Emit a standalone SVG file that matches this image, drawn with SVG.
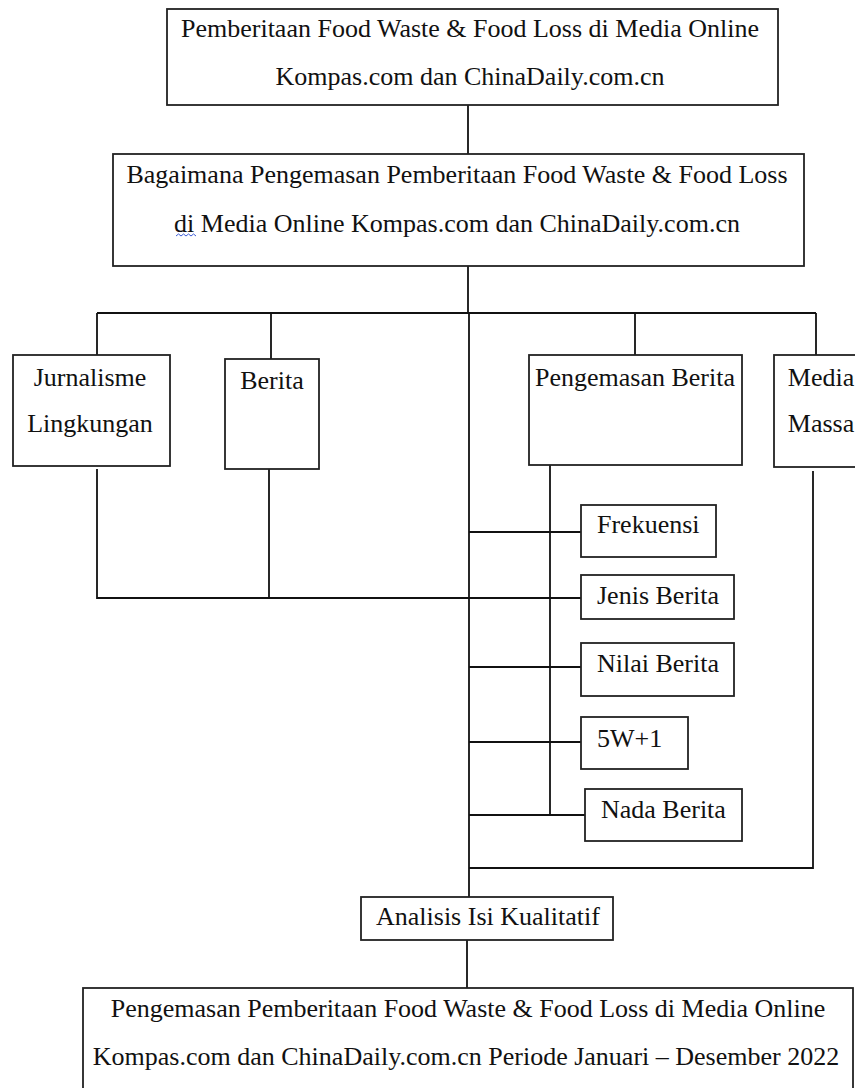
<svg xmlns="http://www.w3.org/2000/svg" width="855" height="1088" viewBox="0 0 855 1088">
<style>
.box{fill:#fff;stroke:#222;stroke-width:1.8}
.ln{fill:none;stroke:#111;stroke-width:1.8}
text{font-family:"Liberation Serif","Times New Roman",serif;font-size:26px;fill:#111}
.c{text-anchor:middle}
</style>
<rect width="855" height="1088" fill="#fff"/>
<g id="connectors">
<path class="ln" d="M468 105V154"/>
<path class="ln" d="M468 266V313"/>
<path class="ln" d="M97 313H816"/>
<path class="ln" d="M97 313V355M271 313V359M635 313V355M816 313V355"/>
<path class="ln" d="M469 313V897"/>
<path class="ln" d="M97 469V598H581"/>
<path class="ln" d="M269 469V598"/>
<path class="ln" d="M550 465V815"/>
<path class="ln" d="M469 532H581M469 667H581M469 742H581M469 815H585"/>
<path class="ln" d="M813 471V868H469"/>
<path class="ln" d="M467 940V988"/>
</g>
<g id="n1">
<rect class="box" x="167" y="9" width="611" height="96"/>
<text class="c" x="470" y="37">Pemberitaan Food Waste &amp; Food Loss di Media Online</text>
<text class="c" x="470" y="85">Kompas.com dan ChinaDaily.com.cn</text>
</g>
<g id="n2">
<rect class="box" x="113" y="154" width="691" height="112"/>
<text class="c" x="457" y="183">Bagaimana Pengemasan Pemberitaan Food Waste &amp; Food Loss</text>
<text class="c" x="457" y="232">di Media Online Kompas.com dan ChinaDaily.com.cn</text>
<path d="M176 236l2.5-2 2.5 2 2.5-2 2.5 2 2.5-2 2.5 2 2.5-2 2.5 2" fill="none" stroke="#3b5bd6" stroke-width="1"/>
</g>
<g id="n3">
<rect class="box" x="13" y="355" width="157" height="111"/>
<text class="c" x="90" y="386">Jurnalisme</text>
<text class="c" x="90" y="432">Lingkungan</text>
</g>
<g id="n4">
<rect class="box" x="225" y="359" width="94" height="110"/>
<text class="c" x="272" y="389">Berita</text>
</g>
<g id="n5">
<rect class="box" x="529" y="355" width="213" height="110"/>
<text class="c" x="635" y="386">Pengemasan Berita</text>
</g>
<g id="n6">
<rect class="box" x="774" y="355" width="96" height="112"/>
<text class="c" x="821" y="386">Media</text>
<text class="c" x="821" y="432">Massa</text>
</g>
<g id="n7">
<rect class="box" x="581" y="505" width="135" height="52"/>
<text x="597" y="533">Frekuensi</text>
</g>
<g id="n8">
<rect class="box" x="581" y="575" width="153" height="44"/>
<text x="597" y="604">Jenis Berita</text>
</g>
<g id="n9">
<rect class="box" x="581" y="643" width="153" height="53"/>
<text x="597" y="672">Nilai Berita</text>
</g>
<g id="n10">
<rect class="box" x="581" y="717" width="107" height="52"/>
<text x="597" y="747">5W+1</text>
</g>
<g id="n11">
<rect class="box" x="585" y="789" width="157" height="52"/>
<text x="601" y="818">Nada Berita</text>
</g>
<g id="n12">
<rect class="box" x="361" y="897" width="252" height="43"/>
<text x="376" y="925">Analisis Isi Kualitatif</text>
</g>
<g id="n13">
<rect class="box" x="83" y="988" width="770" height="120"/>
<text class="c" x="468" y="1017">Pengemasan Pemberitaan Food Waste &amp; Food Loss di Media Online</text>
<text class="c" x="466" y="1065">Kompas.com dan ChinaDaily.com.cn Periode Januari – Desember 2022</text>
</g>
</svg>
